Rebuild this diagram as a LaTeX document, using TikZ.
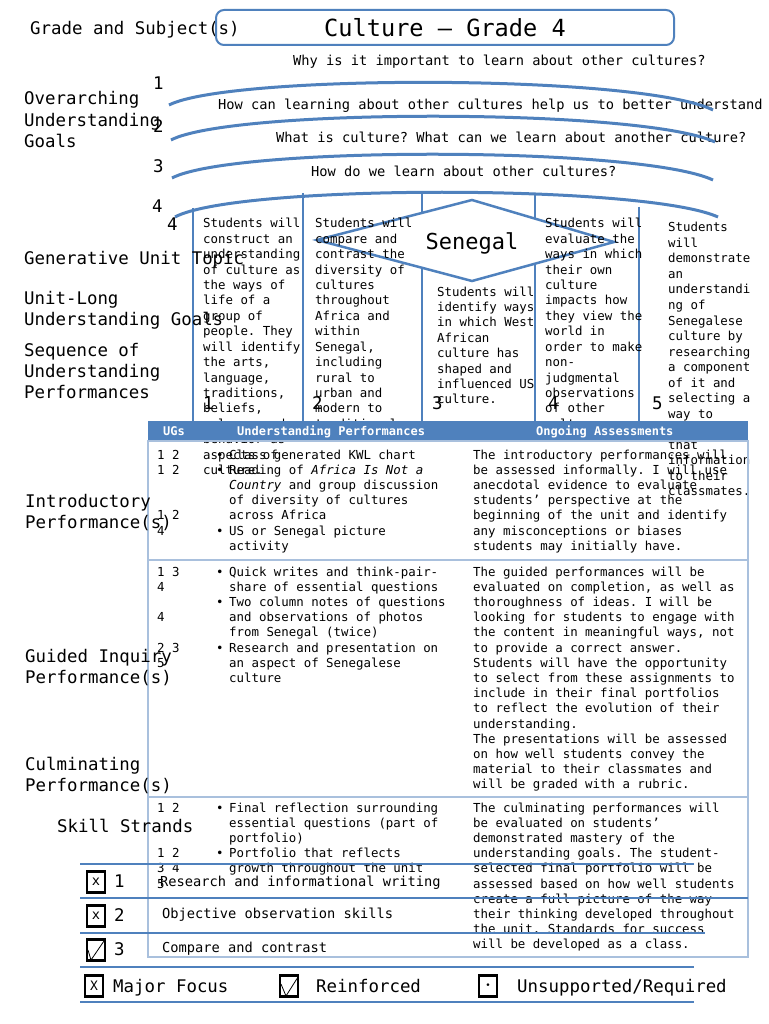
\documentclass[tikz,border=0pt]{standalone}
\usepackage{fontspec}
\setmainfont{DejaVu Sans Mono}
\definecolor{ublue}{HTML}{4F81BD}
\definecolor{lblue}{HTML}{A9C0DD}
\newcommand\myb{\makebox[13pt][l]{•}}
\newcommand\myc{\hspace*{13pt}}
\tikzset{
  natsp/.style={execute at begin node={\spaceskip=0pt\xspaceskip=0pt\relax}},
  lbl/.style={anchor=base west, inner sep=0, font=\fontsize{17.4}{21.3}\selectfont, text width=300pt, align=left, natsp},
  q/.style={anchor=base west, inner sep=0, font=\fontsize{13.7}{16}\selectfont},
  colt/.style={anchor=base west, inner sep=0, font=\fontsize{12.4}{15.4}\selectfont, text width=150pt, align=left, natsp},
  tb/.style={anchor=base west, inner sep=0, font=\fontsize{12.4}{15.2}\selectfont, text width=300pt, align=left, natsp},
  hdr/.style={anchor=base west, inner sep=0, text=white, font=\bfseries\fontsize{12}{14}\selectfont},
  arcl/.style={ublue, line width=3pt},
  vline/.style={ublue, line width=2.5pt},
  sline/.style={ublue, line width=1.5pt},
  cbox/.style={draw=black, line width=2.5pt, minimum width=18pt, minimum height=21pt, inner sep=0},
}
\begin{document}
\frenchspacing
\begin{tikzpicture}[x=1pt,y=-1pt]
\useasboundingbox (0,0) rectangle (768,1024);
\fill[white] (0,0) rectangle (768,1024);

% title
\node[lbl] (gs) at (30,35) {Grade and Subject(s)};
\node[draw=ublue, line width=2pt, rounded corners=8pt, minimum width=458pt, minimum height=35pt, inner sep=0, font=\fontsize{23.6}{28}\selectfont] (title) at (445,27.5) {Culture – Grade 4};

% questions
\node[q] (q1) at (293,66) {Why is it important to learn about other cultures?};
\node[q] (q2) at (218,110) {How can learning about other cultures help us to better understand};
\node[q] (q3) at (276,143) {What is culture? What can we learn about another culture?};
\node[q] (q4) at (311,177) {How do we learn about other cultures?};

% arcs
\draw[arcl] (169,105) .. controls (230,74) and (640,74) .. (713,110);
\draw[arcl] (171,140) .. controls (232,108) and (642,108) .. (715,142);
\draw[arcl] (172,178) .. controls (233,146) and (640,146) .. (713,180);
\draw[arcl] (175,217) .. controls (236,184) and (645,184) .. (718,217);

\node[lbl] (n1) at (153,90) {1};
\node[lbl] (n2) at (153,133) {2};
\node[lbl] (n3) at (153,173) {3};
\node[lbl] (n4) at (152,213) {4};
\node[lbl] (n4b) at (167,230) {4};

% vertical column lines
\draw[vline] (193,208) -- (193,421);
\draw[vline] (303,193) -- (303,421);
\draw[vline] (422,193) -- (422,421);
\draw[vline] (535,193) -- (535,421);
\draw[vline] (639,207) -- (639,421);

% diamond
\coordinate (dT) at (472,200);
\coordinate (dR) at (614,242);
\coordinate (dB) at (472,281);
\coordinate (dL) at (317,240);
\filldraw[fill=white, draw=ublue, line width=2.5pt] (dT) -- (dR) -- (dB) -- (dL) -- cycle;
\node[anchor=base, inner sep=0, font=\fontsize{22}{26}\selectfont] (sen) at (472,249) {Senegal};

% column texts
\node[colt] (c1) at (203,228) {Students will\\construct an\\understanding\\of culture as\\the ways of\\life of a\\group of\\people. They\\will identify\\the arts,\\language,\\traditions,\\beliefs,\\values, and\\behavior as\\aspects of\\culture.};
\node[colt] (c2) at (315,228) {Students will\\compare and\\contrast the\\diversity of\\cultures\\throughout\\Africa and\\within\\Senegal,\\including\\rural to\\urban and\\modern to\\traditional.};
\node[colt] (c3) at (437,296) {Students will\\identify ways\\in which West\\African\\culture has\\shaped and\\influenced US\\culture.};
\node[colt] (c4) at (545,228) {Students will\\evaluate the\\ways in which\\their own\\culture\\impacts how\\they view the\\world in\\order to make\\non-\\judgmental\\observations\\of other\\cultures.};
\node[colt, font=\fontsize{12.4}{15.5}\selectfont] (c5) at (668,232) {Students\\will\\demonstrate\\an\\understandi\\ng of\\Senegalese\\culture by\\researching\\a component\\of it and\\selecting a\\way to\\present\\that\\information\\to their\\classmates.};

\node[lbl] (k1) at (203,409) {1};
\node[lbl] (k2) at (312,409) {2};
\node[lbl] (k3) at (432,409) {3};
\node[lbl] (k4) at (548,409) {4};
\node[lbl] (k5) at (652,409) {5};

% table
\fill[ublue] (148,421) rectangle (748,441);
\draw[lblue, line width=1.2pt] (148,441) rectangle (748,957);
\draw[lblue, line width=1.2pt] (148,560) -- (748,560);
\draw[lblue, line width=1.2pt] (148,797) -- (748,797);
\node[hdr] (h1) at (163,435) {UGs};
\node[hdr] (h2) at (237,435) {Understanding Performances};
\node[hdr] (h3) at (536,435) {Ongoing Assessments};

% row 1
\node[tb] (u1) at (157,459) {1 2\\1 2\\\mbox{}\\\mbox{}\\1 2\\4};
\node[tb] (p1) at (216,459) {\myb Class generated KWL chart\\\myb Reading of \textit{Africa Is Not a}\\\myc\textit{Country} and group discussion\\\myc of diversity of cultures\\\myc across Africa\\\myb US or Senegal picture\\\myc activity};
\node[tb] (a1) at (473,459) {The introductory performances will\\be assessed informally. I will use\\anecdotal evidence to evaluate\\students’ perspective at the\\beginning of the unit and identify\\any misconceptions or biases\\students may initially have.};

% row 2
\node[tb] (u2) at (157,576) {1 3\\4\\\mbox{}\\4\\\mbox{}\\2 3\\5};
\node[tb] (p2) at (216,576) {\myb Quick writes and think-pair-\\\myc share of essential questions\\\myb Two column notes of questions\\\myc and observations of photos\\\myc from Senegal (twice)\\\myb Research and presentation on\\\myc an aspect of Senegalese\\\myc culture};
\node[tb] (a2) at (473,576) {The guided performances will be\\evaluated on completion, as well as\\thoroughness of ideas. I will be\\looking for students to engage with\\the content in meaningful ways, not\\to provide a correct answer.\\Students will have the opportunity\\to select from these assignments to\\include in their final portfolios\\to reflect the evolution of their\\understanding.\\The presentations will be assessed\\on how well students convey the\\material to their classmates and\\will be graded with a rubric.};

% row 3
\node[tb] (u3) at (157,812) {1 2\\\mbox{}\\\mbox{}\\1 2\\3 4\\5};
\node[tb] (p3) at (216,812) {\myb Final reflection surrounding\\\myc essential questions (part of\\\myc portfolio)\\\myb Portfolio that reflects\\\myc growth throughout the unit};
\node[tb] (a3) at (473,812) {The culminating performances will\\be evaluated on students’\\demonstrated mastery of the\\understanding goals. The student-\\selected final portfolio will be\\assessed based on how well students\\create a full picture of the way\\their thinking developed throughout\\the unit. Standards for success\\will be developed as a class.};

% left labels
\node[lbl] (L1) at (24,105) {Overarching\\Understanding\\Goals};
\node[lbl] (L2) at (24,264) {Generative Unit Topic};
\node[lbl] (L3) at (24,304) {Unit-Long\\Understanding Goals};
\node[lbl] (L4) at (24,356) {Sequence of\\Understanding\\Performances};
\node[lbl] (L5) at (25,507) {Introductory\\Performance(s)};
\node[lbl] (L6) at (25,662) {Guided Inquiry\\Performance(s)};
\node[lbl] (L7) at (25,770) {Culminating\\Performance(s)};
\node[lbl] (L8) at (57,832) {Skill Strands};

% skill strands
\draw[sline] (80,864) -- (694,864);
\draw[sline] (80,898) -- (748,898);
\draw[sline] (80,933) -- (705,933);
\draw[sline] (80,967) -- (694,967);
\draw[ublue, line width=2.5pt] (80,1002) -- (694,1002);

\node[cbox, font=\fontsize{13.7}{14}\selectfont] (b1) at (96,882) {x};
\node[cbox, font=\fontsize{13.7}{14}\selectfont] (b2) at (96,916) {x};
\node[cbox] (b3) at (96,950) {};
\draw[line width=0.8pt] (88,950) -- (91,960) -- (104,941);
\node[lbl] (s1) at (114,887) {1};
\node[lbl] (s2) at (114,921) {2};
\node[lbl] (s3) at (114,955) {3};
\node[q] (t1) at (160,886) {Research and informational writing};
\node[q] (t2) at (162,918) {Objective observation skills};
\node[q] (t3) at (162,952) {Compare and contrast};

% legend
\node[cbox, font=\fontsize{13}{14}\selectfont] (g1) at (94,986) {X};
\node[lbl] (g1t) at (113,992) {Major Focus};
\node[cbox] (g2) at (289,986) {};
\draw[line width=0.8pt] (281,984) -- (286,996) -- (298,977);
\node[lbl] (g2t) at (316,992) {Reinforced};
\node[cbox, font=\fontsize{9}{10}\selectfont] (g3) at (488,986) {•};
\node[lbl] (g3t) at (517,992) {Unsupported/Required};
\end{tikzpicture}
\end{document}
